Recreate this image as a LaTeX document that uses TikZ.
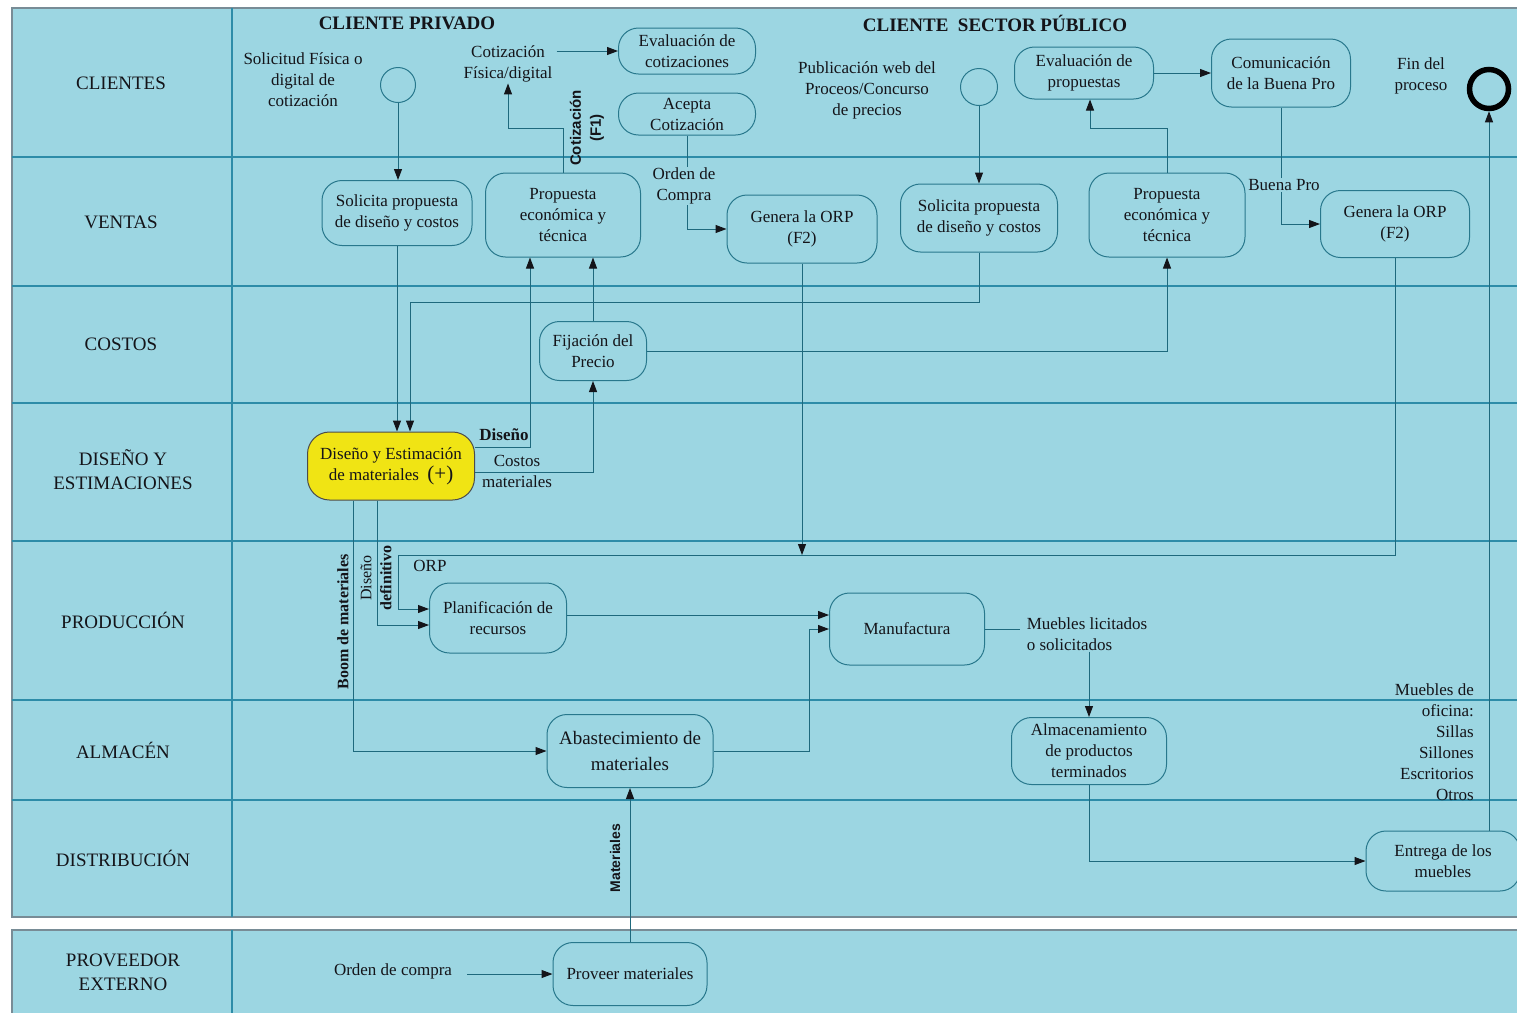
\documentclass[tikz,border=0pt]{standalone}
\usepackage{fontspec}
\setmainfont{Liberation Serif}
\newfontfamily\sansb{Liberation Sans}
\usetikzlibrary{arrows.meta,calc}
\definecolor{bgc}{RGB}{156,214,226}
\definecolor{lanec}{RGB}{45,140,168}
\definecolor{linec}{RGB}{30,105,125}
\definecolor{boxc}{RGB}{40,120,140}
\definecolor{bordc}{RGB}{120,140,150}
\definecolor{yel}{RGB}{240,228,20}
\definecolor{txt}{RGB}{20,20,25}
\begin{document}
\begin{tikzpicture}[x=1pt,y=-1pt,
  box/.style={draw=boxc, line width=1pt, rounded corners=20pt, fill=bgc, align=center,
    font=\fontsize{17}{21}\selectfont, text=txt, inner sep=2pt},
  lbl/.style={align=center, font=\fontsize{17}{21}\selectfont, text=txt, inner sep=1pt},
  lanelbl/.style={align=center, font=\fontsize{19}{24}\selectfont, text=txt},
  hdr/.style={font=\fontsize{19}{22}\selectfont\bfseries, text=txt},
  arr/.style={draw=linec, line width=1pt, -{Triangle[length=11pt,width=8pt,color=txt]}},
  ln/.style={draw=linec, line width=1pt},
]
\useasboundingbox (0,0) rectangle (1517,1013);
\fill[white] (0,0) rectangle (1517,1013);
% lanes
\fill[bgc] (12,8) rectangle (1517,917);
\fill[bgc] (12,930) rectangle (1517,1013);
\draw[bordc, line width=1.2pt] (1517,8) -- (12,8) -- (12,917) -- (1517,917);
\draw[bordc, line width=1.2pt] (1517,930) -- (12,930) -- (12,1013);
\foreach \yy in {157,286,403,541,700,800}
  \draw[lanec, line width=1.2pt] (12,\yy) -- (1517,\yy);
\draw[lanec, line width=1.2pt] (232,8) -- (232,917);
\draw[lanec, line width=1.2pt] (232,930) -- (232,1013);

\node[lanelbl] (lcli) at (121,83) {CLIENTES};
\node[lanelbl] (lven) at (121,222) {VENTAS};
\node[lanelbl] (lcos) at (121,344) {COSTOS};
\node[lanelbl] (ldis) at (123,470) {DISEÑO Y\\ESTIMACIONES};
\node[lanelbl] (lpro) at (123,620) {PRODUCCIÓN};
\node[lanelbl] (lalm) at (123,750) {ALMACÉN};
\node[lanelbl] (ldst) at (123,858) {DISTRIBUCIÓN};
\node[lanelbl] (lprv) at (123,972) {PROVEEDOR\\EXTERNO};

\node[hdr] (hpriv) at (407,23) {CLIENTE PRIVADO};
\node[hdr] (hpub) at (995,23) {CLIENTE\ \ SECTOR PÚBLICO};

% activity boxes
\node[box, minimum width=137pt, minimum height=46pt] (evalc) at (687,51) {Evaluación de\\cotizaciones};
\node[box, minimum width=137pt, minimum height=42pt] (acepta) at (687,114) {Acepta\\Cotización};
\node[box, minimum width=150pt, minimum height=65pt] (solp1) at (397,213) {Solicita propuesta\\de diseño y costos};
\node[box, minimum width=155pt, minimum height=84pt] (prop1) at (563,215) {Propuesta\\económica y\\técnica};
\node[box, minimum width=150pt, minimum height=68pt] (orp1) at (802,229) {Genera la ORP\\(F2)};
\node[box, minimum width=139pt, minimum height=52pt] (evalp) at (1084,73) {Evaluación de\\propuestas};
\node[box, minimum width=139pt, minimum height=68pt] (comu) at (1281,73) {Comunicación\\de la Buena Pro};
\node[box, minimum width=157pt, minimum height=68pt] (solp2) at (979,218) {Solicita propuesta\\de diseño y costos};
\node[box, minimum width=156pt, minimum height=84pt] (prop2) at (1167,215) {Propuesta\\económica y\\técnica};
\node[box, minimum width=149pt, minimum height=67pt] (orp2) at (1395,224) {Genera la ORP\\(F2)};
\node[box, minimum width=107pt, minimum height=59pt] (fij) at (593,351) {Fijación del\\Precio};
\node[box, draw=black!70, fill=yel, minimum width=167pt, minimum height=68pt, rounded corners=22pt] (dise) at (391,466)
  {Diseño y Estimación\\de materiales\ \ {\fontsize{21}{21}\selectfont(+)}};
\node[box, minimum width=137pt, minimum height=70pt] (plan) at (498,618) {Planificación de\\recursos};
\node[box, minimum width=155pt, minimum height=72pt] (manu) at (907,629) {Manufactura};
\node[box, minimum width=166pt, minimum height=73pt, font=\fontsize{19}{26}\selectfont] (abas) at (630,751) {Abastecimiento de\\materiales};
\node[box, minimum width=155pt, minimum height=67pt] (alma) at (1089,751) {Almacenamiento\\de productos\\terminados};
\node[box, minimum width=154pt, minimum height=60pt] (entr) at (1443,861) {Entrega de los\\muebles};
\node[box, minimum width=154pt, minimum height=63pt] (prov) at (630,974) {Proveer materiales};

% start / end
\node[circle, draw=boxc, line width=1pt, minimum size=35pt, inner sep=0pt] (start1) at (398,85) {};
\node[circle, draw=boxc, line width=1pt, minimum size=37pt, inner sep=0pt] (start2) at (979,87) {};
\node[circle, draw=black, line width=5.5pt, minimum size=39pt, inner sep=0pt] (endc) at (1489,89) {};

% free texts
\node[lbl] (tsol) at (303,80) {Solicitud Física o\\digital de\\cotización};
\node[lbl] (tcot) at (508,64) {Cotización\\Física/digital};
\node[lbl] (torden) at (684,186) {Orden de\\Compra};
\node[lbl] (tpub) at (867,90) {Publicación web del\\Proceos/Concurso\\de precios};
\node[lbl] (tfin) at (1421,76) {Fin del\\proceso};
\node[lbl] (tbuena) at (1284,185) {Buena Pro};
\node[lbl, align=left] (tmueb) at (1087,634) {Muebles licitados\\o solicitados};
\node[lbl, align=right, anchor=north east] (tofi) at (1475,682) {Muebles de\\oficina:\\Sillas\\Sillones\\Escritorios\\Otros};
\node[lbl] (tordc) at (393,971) {Orden de compra};
\node[lbl, font=\fontsize{17}{21}\selectfont\bfseries] (ldisn) at (504,435) {Diseño};
\node[lbl] (lcost) at (517,471) {Costos\\materiales};
\node[lbl] (lorp) at (430,566) {ORP};
\node[lbl, rotate=90, font=\sansb\bfseries\fontsize{15}{20}\selectfont] (lcf) at (587,128) {Cotización\\(F1)};
\node[lbl, rotate=90, font=\bfseries\fontsize{16}{20}\selectfont] (lboom) at (343,622) {Boom de materiales};
\node[lbl, rotate=90, font=\fontsize{16}{20}\selectfont] (ldd) at (376,578) {Diseño\\\textbf{definitivo}};
\node[lbl, rotate=90, font=\sansb\bfseries\fontsize{14}{18}\selectfont] (lmat) at (615,858) {Materiales};

% coordinates for bends
\coordinate (c3) at (410,302);
\coordinate (dd) at (530,447);
\coordinate (cc) at (593,472);
\coordinate (c8) at (508,128);
\coordinate (c12) at (398,555);
\coordinate (c12b) at (398,609);
\coordinate (c13) at (377,625);
\coordinate (c14) at (353,751);
\coordinate (m1) at ($(manu.west)+(0,-14)$);
\coordinate (c16) at (809,751);
\coordinate (c23) at (1090,128);
\coordinate (orpl) at (1395,555);

% connectors
\draw[arr] (start1) -- (start1 |- solp1.north);
\draw[arr] (solp1.south) -- (solp1.south |- dise.north);
\draw[arr] (solp2.south) |- (c3) -- (c3 |- dise.north);
\draw[arr] (dise.east |- dd) -- (dd) -- (dd |- prop1.south);
\draw[arr] (dise.east |- cc) -- (cc) -- (fij.south);
\draw[arr] (fij.north) -- (fij.north |- prop1.south);
\draw[arr] (fij.east) -| (prop2.south);
\draw[arr] (prop1.north) |- (c8) -- (c8 |- tcot.south);
\draw[arr, shorten <=3pt] (tcot.east |- evalc.west) -- (evalc.west);
\draw[ln] (acepta.south) -- (acepta.south |- torden.north);
\draw[arr] (acepta.south |- torden.south) |- (orp1.west);
\draw[arr] (orp1.south) -- (orp1.south |- orpl);
\draw[arr] (orp2.south) -- (orpl) -- (c12) -- (c12b) -- (c12b -| plan.west);
\draw[arr] (dise.south -| c13) -- (c13) -- (c13 -| plan.west);
\draw[arr] (dise.south -| c14) -- (c14) -- (abas.west);
\draw[arr] (plan.east |- m1) -- (m1);
\draw[arr] (abas.east) -- (c16) |- (manu.west);
\draw[arr] (prov.north) -- (abas.south);
\draw[arr, shorten <=14pt] (tordc.east |- prov.west) -- (prov.west);
\draw[ln, shorten >=6pt] (manu.east) -- (tmueb.west |- manu.east);
\draw[arr] (alma.north |- tmueb.south) -- (alma.north);
\draw[arr] (alma.south) |- (entr.west);
\draw[arr] (endc.south |- entr.north) -- (endc.south);
\draw[arr] (start2) -- (start2 |- solp2.north);
\draw[arr] (prop2.north) |- (c23) -- (c23 |- evalp.south);
\draw[arr] (evalp.east) -- (comu.west);
\draw[ln] (comu.south) -- (comu.south |- tbuena.north);
\draw[arr] (comu.south |- tbuena.south) |- (orp2.west);
\end{tikzpicture}
\end{document}
